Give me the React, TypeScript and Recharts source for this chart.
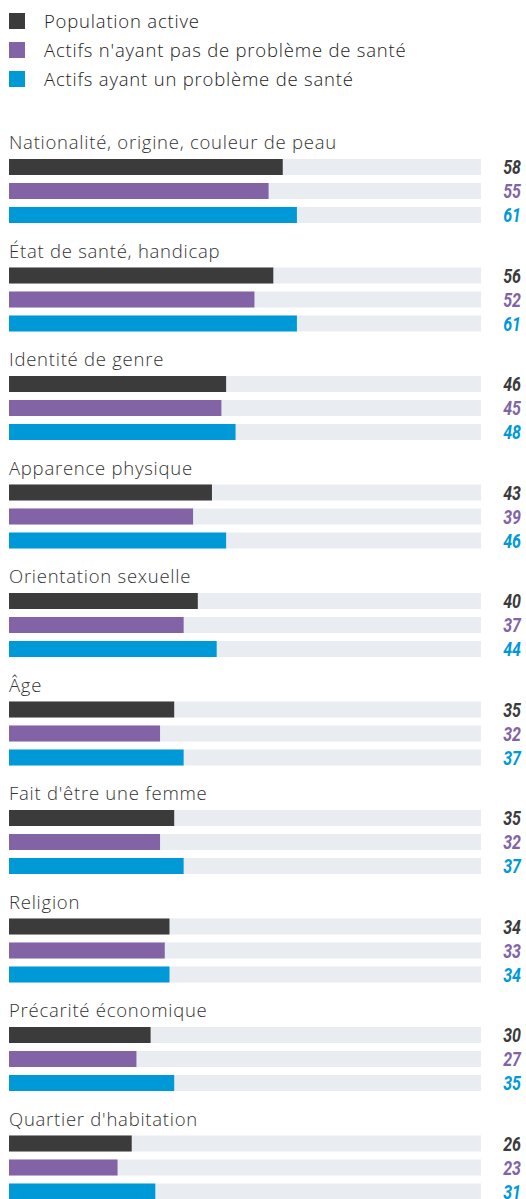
import React from "react";
import { BarChart, Bar, XAxis, YAxis, LabelList } from "recharts";

const categories = [
  "Nationalité, origine, couleur de peau",
  "État de santé, handicap",
  "Identité de genre",
  "Apparence physique",
  "Orientation sexuelle",
  "Âge",
  "Fait d'être une femme",
  "Religion",
  "Précarité économique",
  "Quartier d'habitation",
];
const populationActive = [58, 56, 46, 43, 40, 35, 35, 34, 30, 26];
const sansProbleme = [55, 52, 45, 39, 37, 32, 32, 33, 27, 23];
const avecProbleme = [61, 61, 48, 46, 44, 37, 37, 34, 35, 31];

const seriesNames = [
  "Population active",
  "Actifs n'ayant pas de problème de santé",
  "Actifs ayant un problème de santé",
];
const seriesKeys = ["pop", "sans", "avec"];
const colors = ["#3b3b3b", "#8163a6", "#0099d7"];

const data = categories.map((name, i) => ({
  name,
  title: 0,
  pop: populationActive[i],
  sans: sansProbleme[i],
  avec: avecProbleme[i],
}));

const textFont = "'Open Sans', Roboto, sans-serif";
const valueFont = "Roboto, 'DejaVu Sans', sans-serif";

const titleLabel = (props: any) => {
  const { y, value } = props;
  return (
    <text
      x={9}
      y={Number(y) - 10}
      fill="#333"
      fontFamily={textFont}
      fontWeight={300}
      fontSize={18.5}
      letterSpacing={0.75}
    >
      {value}
    </text>
  );
};

const makeValueLabel = (color: string) => (props: any) => {
  const { y, height, value } = props;
  const cy = Number(y) + Number(height) / 2;
  return (
    <g transform={`translate(521, ${cy}) scale(0.8, 1)`}>
      <text
        x={0}
        y={0}
        dominantBaseline="central"
        textAnchor="end"
        fill={color}
        fontFamily={valueFont}
        fontWeight={700}
        fontStyle="italic"
        fontSize={20}
      >
        {value}
      </text>
    </g>
  );
};

export default function App() {
  return (
    <div style={{ position: "absolute", left: 0, top: 0, width: 526, height: 1199, overflow: "hidden", background: "#fff" }}>
      <div style={{ position: "absolute", left: 0, top: 0 }}>
        {seriesNames.map((n, i) => (
          <div key={n} style={{ position: "absolute", left: 0, top: 12.5 + i * 29, width: 500, height: 16 }}>
            <div style={{ position: "absolute", left: 9, top: 0, width: 16, height: 16, background: colors[i] }} />
            <div
              style={{
                position: "absolute",
                left: 44,
                top: -4,
                fontFamily: textFont,
                fontWeight: 300,
                fontSize: 18.5,
                letterSpacing: 0.8,
                lineHeight: "24px",
                color: "#222",
                whiteSpace: "nowrap",
              }}
            >
              {n}
            </div>
          </div>
        ))}
      </div>
      <div style={{ position: "absolute", left: 0, top: 0 }}>
        <BarChart
          width={526}
          height={1215}
          data={data}
          layout="vertical"
          margin={{ top: 125, right: 45, bottom: 5, left: 9 }}
          barSize={16}
          barGap={8}
        >
          <XAxis type="number" domain={[0, 100]} hide />
          <YAxis type="category" dataKey="name" hide />
          <Bar dataKey="title" fill="transparent" isAnimationActive={false} />
          {seriesKeys.map((k, i) => (
            <Bar
              key={k}
              dataKey={k}
              fill={colors[i]}
              background={{ fill: "#e9ecf0" }}
              isAnimationActive={false}
            >
              <LabelList dataKey={k} content={makeValueLabel(colors[i])} />
              {i === 0 ? <LabelList dataKey="name" content={titleLabel} /> : null}
            </Bar>
          ))}
        </BarChart>
      </div>
    </div>
  );
}
